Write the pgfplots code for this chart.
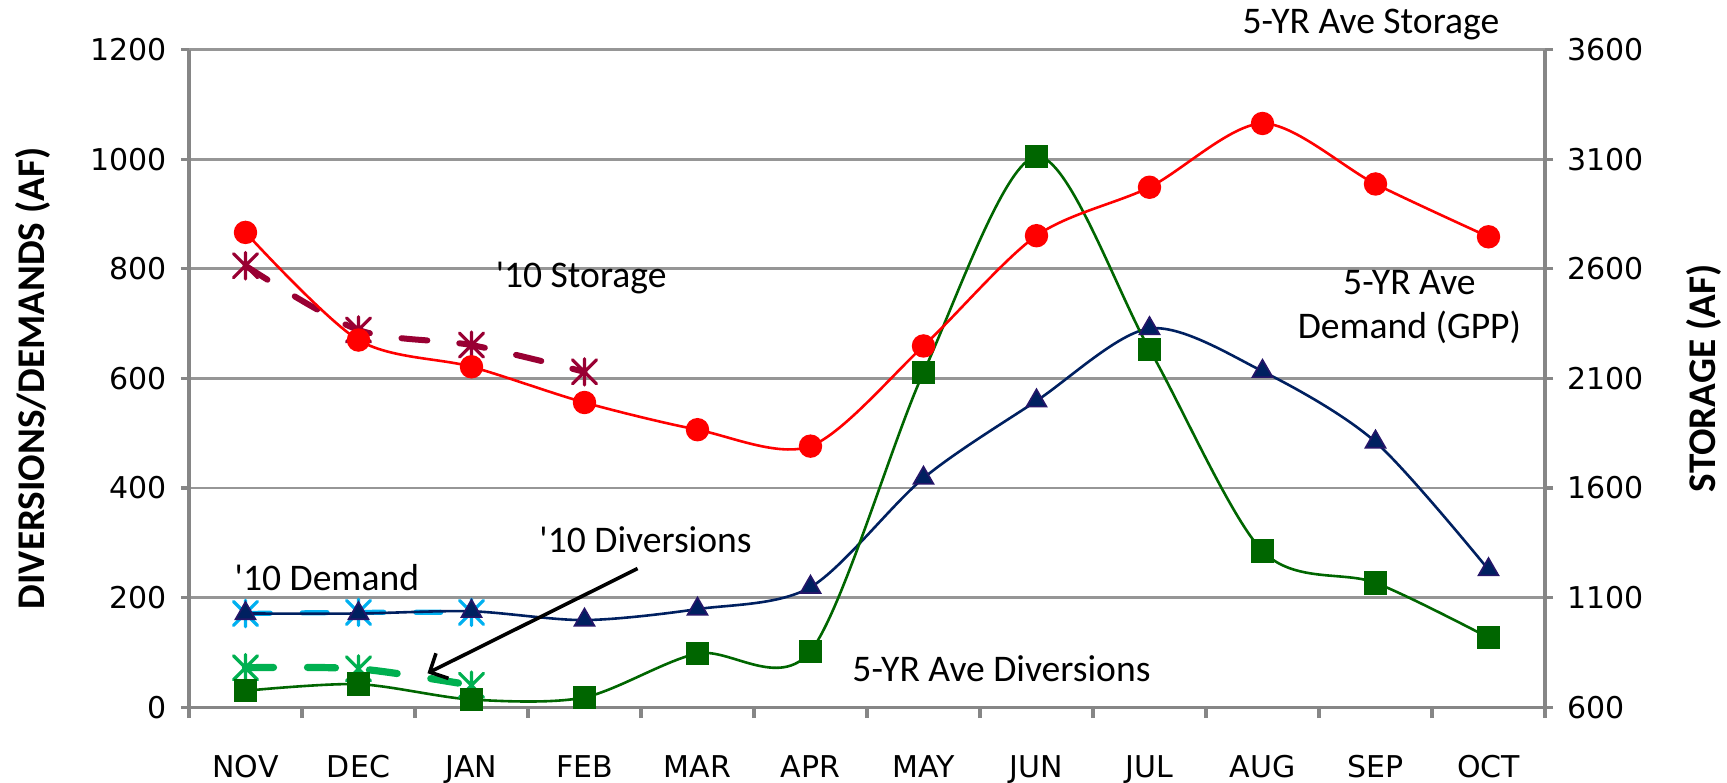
\documentclass[border=0pt]{standalone}
\usepackage{pgfplots}
\pgfplotsset{compat=1.18}
\usepackage{fontspec}
\setmainfont{Carlito}
\newfontfamily\tickfont{DejaVu Sans}
\usetikzlibrary{arrows.meta}
\definecolor{gridgray}{RGB}{150,150,150}
\definecolor{axgray}{RGB}{134,134,134}
\definecolor{st10}{RGB}{153,0,51}
\definecolor{navy}{RGB}{0,32,96}
\definecolor{dgreen}{RGB}{0,102,0}
\definecolor{lblue}{RGB}{0,176,240}
\definecolor{lgreen}{RGB}{0,176,80}
\pgfdeclareplotmark{xast}{%
  \pgfpathmoveto{\pgfqpoint{-\pgfplotmarksize}{-\pgfplotmarksize}}%
  \pgfpathlineto{\pgfqpoint{\pgfplotmarksize}{\pgfplotmarksize}}%
  \pgfpathmoveto{\pgfqpoint{-\pgfplotmarksize}{\pgfplotmarksize}}%
  \pgfpathlineto{\pgfqpoint{\pgfplotmarksize}{-\pgfplotmarksize}}%
  \pgfpathmoveto{\pgfqpoint{0pt}{-1.1\pgfplotmarksize}}%
  \pgfpathlineto{\pgfqpoint{0pt}{1.1\pgfplotmarksize}}%
  \pgfusepathqstroke
}
\tikzset{
  ann/.style={font=\fontsize{9.4}{11}\selectfont, text=black},
  albl/.style={font=\bfseries\fontsize{9.8}{12}\selectfont},
}
\begin{document}
\begin{tikzpicture}
\pgfplotsset{
  base/.style={
    scale only axis, width=339pt, height=164.4pt,
    xmin=-0.5, xmax=11.5,
    clip=false,
    tick align=outside,
    major tick length=2pt,
    ticklabel style={font=\tickfont\fontsize{7.5}{9}\selectfont},
    /pgf/number format/assume math mode=true,
    /pgf/number format/1000 sep={},
    axis line style={axgray, line width=0.8pt},
    tick style={axgray, line width=0.8pt},
  },
}
\begin{axis}[base, name=main,
  axis x line*=bottom, axis y line*=left,
  ymin=0, ymax=1200, ytick={0,200,...,1200},
  ymajorgrids, grid style={gridgray, line width=0.7pt},
  xtick={0,...,11},
  xticklabels={NOV,DEC,JAN,FEB,MAR,APR,MAY,JUN,JUL,AUG,SEP,OCT},
  major x tick style={draw=none},
  minor xtick={-0.5,0.5,...,11.5},
  minor tick length=2.75pt,
  xticklabel style={yshift=-6.5pt},
  ylabel={DIVERSIONS/DEMANDS (AF)},
  every axis y label/.style={at={(rel axis cs:0,0.5)}, xshift=-39pt, rotate=90, anchor=center, albl},
]
% '10 Demand
\addplot[lblue, line width=1.3pt, dash pattern=on 6.2pt off 8pt, line cap=round, smooth,
  mark=xast, mark size=3pt, mark options={solid, line width=0.8pt}]
  coordinates {(0,171)(1,173)(2,173)};
% 5-YR Ave Demand
\addplot[navy, line width=0.65pt, smooth, tension=0.5,
  mark=triangle*, mark size=2.9pt, mark options={fill=navy, draw=navy!70!violet, line width=0.4pt}]
  coordinates {(0,171)(1,171)(2,175)(3,159)(4,179)(5,219)(6,418)(7,559)(8,691)(9,613)(10,484)(11,251)};
% '10 Diversions
\addplot[lgreen, line width=1.8pt, dash pattern=on 7pt off 8.5pt, line cap=round, smooth,
  mark=xast, mark size=3pt, mark options={solid, line width=0.8pt}]
  coordinates {(0,72)(1,70)(2,40)};
% 5-YR Ave Diversions
\addplot[dgreen, line width=0.65pt, smooth, tension=0.5,
  mark=square*, mark size=2.6pt, mark options={fill=dgreen}]
  coordinates {(0,30)(1,42)(2,14)(3,18)(4,98)(5,102)(6,611)(7,1005)(8,653)(9,285)(10,227)(11,127)};
% annotations
\node[ann] at (axis cs:2.97,784) {\textquotesingle10 Storage};
\node[ann, align=center] at (axis cs:10.3,731) {5-YR Ave\\Demand (GPP)};
\node[ann] at (axis cs:3.54,305) {\textquotesingle10 Diversions};
\node[ann] at (axis cs:0.72,237) {\textquotesingle10 Demand};
\node[ann] at (axis cs:6.69,70) {5-YR Ave Diversions};
\node[ann, anchor=east] at (axis cs:11.22,1246) {5-YR Ave Storage};
\draw[black, line width=0.9pt, -{Straight Barb[length=3.5pt, width=7pt]}] (axis cs:3.47,253) -- (axis cs:1.61,62);
\end{axis}
\begin{axis}[base,
  axis x line=none, axis y line*=right,
  ymin=600, ymax=3600, ytick={600,1100,...,3600},
  ylabel={STORAGE (AF)},
  every axis y label/.style={at={(rel axis cs:1,0.5)}, xshift=39.75pt, rotate=90, anchor=center, albl},
]
% '10 Storage
\addplot[st10, line width=1.5pt, dash pattern=on 6.5pt off 8pt, line cap=round, smooth,
  mark=xast, mark size=3pt, mark options={solid, line width=0.8pt}]
  coordinates {(0,2614)(1,2321)(2,2252)(3,2130)};
% 5-YR Ave Storage
\addplot[red, line width=0.65pt, smooth, tension=0.5,
  mark=*, mark size=2.6pt, mark options={fill=red}]
  coordinates {(0,2766)(1,2275)(2,2153)(3,1990)(4,1866)(5,1791)(6,2248)(7,2751)(8,2972)(9,3263)(10,2987)(11,2746)};
\end{axis}
\pgfresetboundingbox
\path ([shift={(-47.25pt,-18.75pt)}]main.south west) rectangle ([shift={(45.5pt,12.4pt)}]main.north east);
\end{tikzpicture}
\end{document}
